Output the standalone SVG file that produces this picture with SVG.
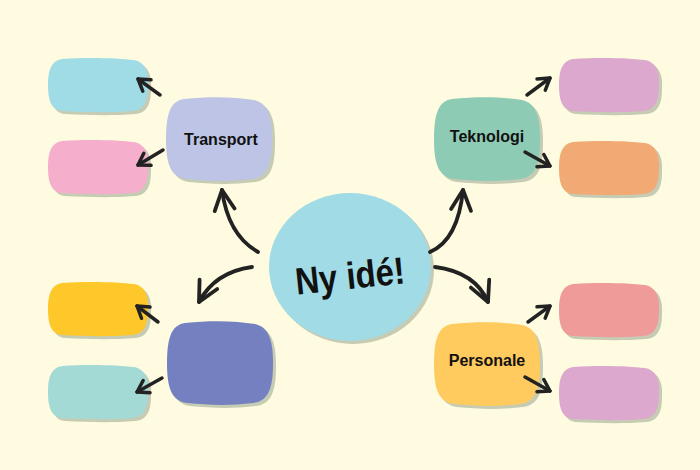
<svg xmlns="http://www.w3.org/2000/svg" xmlns:xlink="http://www.w3.org/1999/xlink" width="700" height="470" viewBox="0 0 700 470">
<style>
.sh{fill:#C6CBB4}
.lbl{font-family:"Liberation Sans","Arial",sans-serif;font-weight:bold;font-size:16px;fill:#111;text-anchor:middle}
.big{font-family:"Liberation Sans","Arial",sans-serif;font-weight:bold;font-size:38px;fill:#111;text-anchor:middle}
.ln{fill:none;stroke:#222;stroke-width:3.5;stroke-linecap:round;stroke-linejoin:round}
.lnb{fill:none;stroke:#222;stroke-width:3.8;stroke-linecap:round;stroke-linejoin:round}
</style>
<defs>
<path id="sb" d="M 14 1 C 40 -1, 70 0, 86 2 C 97 4, 101 14, 100 27 C 100 42, 97 52, 84 53 C 60 55, 35 54, 14 53 C 3 52, 0 42, 0 27 C 0 12, 3 3, 14 1 Z"/>
<path id="bb" d="M 18 2 C 45 -1, 70 0, 88 3 C 102 6, 106 20, 106 42 C 106 66, 102 80, 86 82 C 62 85, 40 84, 20 82 C 4 80, 0 66, 0 42 C 0 18, 4 4, 18 2 Z"/>
<marker id="ah" markerUnits="userSpaceOnUse" orient="auto" refX="0" refY="0" markerWidth="30" markerHeight="30" overflow="visible">
<path d="M -11 -7 L 0 0 L -11 7" fill="none" stroke="#222" stroke-width="3.5" stroke-linecap="round" stroke-linejoin="round"/>
</marker>
<marker id="ahb" markerUnits="userSpaceOnUse" orient="auto" refX="0" refY="0" markerWidth="40" markerHeight="40" overflow="visible">
<path d="M -20 -10 L 0 0 L -20 10" fill="none" stroke="#222" stroke-width="3.8" stroke-linecap="round" stroke-linejoin="round"/>
</marker>
</defs>
<rect width="700" height="470" fill="#FEFBE0"/>

<g id="center">
<ellipse cx="353" cy="270" rx="81" ry="74" class="sh"/>
<ellipse cx="350" cy="267" rx="81" ry="74" fill="#A0DBE6"/>
<text class="big" x="350" y="289" textLength="110" lengthAdjust="spacingAndGlyphs" transform="rotate(-6 350 276)">Ny idé!</text>
</g>

<g id="transport">
<use xlink:href="#bb" class="sh" transform="translate(169 100)"/>
<use xlink:href="#bb" fill="#BDC4E6" transform="translate(166 97)"/>
<text class="lbl" x="221" y="145">Transport</text>
</g>
<g id="tl1"><use xlink:href="#sb" class="sh" transform="translate(51 61)"/><use xlink:href="#sb" fill="#A0DCE6" transform="translate(48 58)"/></g>
<g id="tl2"><use xlink:href="#sb" class="sh" transform="translate(51 143)"/><use xlink:href="#sb" fill="#F5AECB" transform="translate(48 140)"/></g>

<g id="teknologi">
<use xlink:href="#bb" class="sh" transform="translate(437 100)"/>
<use xlink:href="#bb" fill="#8ECBB4" transform="translate(434 97)"/>
<text class="lbl" x="487" y="142">Teknologi</text>
</g>
<g id="tr1"><use xlink:href="#sb" class="sh" transform="translate(562 61)"/><use xlink:href="#sb" fill="#DDA8CE" transform="translate(559 58)"/></g>
<g id="tr2"><use xlink:href="#sb" class="sh" transform="translate(562 144)"/><use xlink:href="#sb" fill="#F2AA74" transform="translate(559 141)"/></g>

<g id="personale">
<use xlink:href="#bb" class="sh" transform="translate(437 325)"/>
<use xlink:href="#bb" fill="#FFCA5E" transform="translate(434 322)"/>
<text class="lbl" x="487" y="366">Personale</text>
</g>
<g id="br1"><use xlink:href="#sb" class="sh" transform="translate(562 286)"/><use xlink:href="#sb" fill="#EF9B99" transform="translate(559 283)"/></g>
<g id="br2"><use xlink:href="#sb" class="sh" transform="translate(562 369)"/><use xlink:href="#sb" fill="#DDA8CE" transform="translate(559 366)"/></g>

<g id="blank">
<use xlink:href="#bb" class="sh" transform="translate(170 324)"/>
<use xlink:href="#bb" fill="#7480C0" transform="translate(167 321)"/>
</g>
<g id="bl1"><use xlink:href="#sb" class="sh" transform="translate(51 285)"/><use xlink:href="#sb" fill="#FFC82A" transform="translate(48 282)"/></g>
<g id="bl2"><use xlink:href="#sb" class="sh" transform="translate(51 368)"/><use xlink:href="#sb" fill="#A3DAD6" transform="translate(48 365)"/></g>

<g id="connectors">
<path class="lnb" d="M 258 252 Q 228 235 222 190" marker-end="url(#ahb)"/>
<path class="lnb" d="M 252 267 Q 215 272 199 302" marker-end="url(#ahb)"/>
<path class="lnb" d="M 430 252 Q 458 240 463 190" marker-end="url(#ahb)"/>
<path class="lnb" d="M 435 267 Q 475 272 488 302" marker-end="url(#ahb)"/>
<path class="ln" d="M 160 95 L 138 79" marker-end="url(#ah)"/>
<path class="ln" d="M 163 150 L 138 165" marker-end="url(#ah)"/>
<path class="ln" d="M 527 95 L 550 78" marker-end="url(#ah)"/>
<path class="ln" d="M 525 152 L 550 166" marker-end="url(#ah)"/>
<path class="ln" d="M 158 322 L 137 306" marker-end="url(#ah)"/>
<path class="ln" d="M 162 378 L 137 392" marker-end="url(#ah)"/>
<path class="ln" d="M 528 322 L 550 306" marker-end="url(#ah)"/>
<path class="ln" d="M 525 377 L 550 391" marker-end="url(#ah)"/>
</g>
</svg>
